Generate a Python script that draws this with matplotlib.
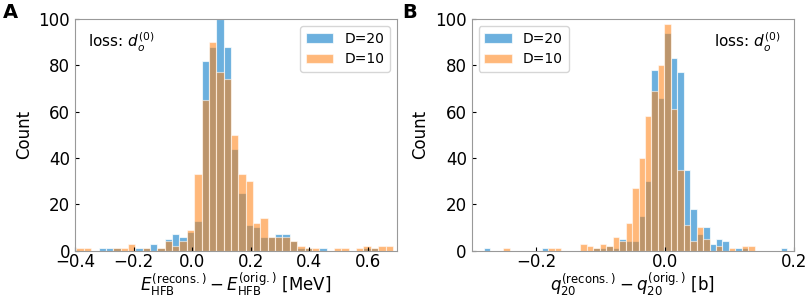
import numpy as np
import matplotlib.pyplot as plt

# bin edges shared by both series of a panel
edges_a = np.linspace(-0.395, 0.686, 44)
edges_b = np.linspace(-0.2813, 0.1897, 48)

# panel A: E_HFB difference, counts per bin
cnt_a_d20 = [0, 0, 0, 1, 1, 1, 0, 0, 1, 1,
             3, 1, 5, 7, 6, 8, 13, 82, 88, 100,
             88, 44, 25, 11, 10, 6, 6, 7, 7, 4,
             1, 1, 0, 1, 0, 0, 0, 0, 0, 1,
             1, 0, 0]
cnt_a_d10 = [1, 1, 0, 0, 0, 1, 1, 3, 0, 1,
             0, 1, 4, 2, 4, 9, 33, 65, 90, 77,
             74, 50, 33, 30, 12, 14, 6, 6, 6, 4,
             2, 1, 1, 0, 0, 1, 1, 0, 1, 2,
             1, 2, 2]

# panel B: q20 difference, counts per bin
cnt_b_d20 = [1, 0, 0, 0, 0, 0, 0, 0, 0, 1,
             0, 0, 0, 0, 0, 0, 0, 1, 1, 2,
             1, 5, 4, 4, 15, 30, 78, 66, 94, 83,
             77, 35, 18, 7, 10, 3, 5, 4, 0, 1,
             1, 0, 0, 0, 0, 0, 1]
cnt_b_d10 = [0, 0, 0, 1, 0, 0, 0, 0, 0, 0,
             1, 1, 0, 0, 0, 3, 2, 1, 3, 2,
             6, 4, 12, 27, 40, 58, 69, 80, 98, 61,
             35, 11, 4, 10, 5, 0, 2, 0, 1, 0,
             2, 2, 0, 0, 0, 0, 0]

xticks_a = [-0.4, -0.2, 0.0, 0.2, 0.4, 0.6]
xticks_b = [-0.2, 0.0, 0.2]
yticks = [0, 20, 40, 60, 80, 100]

blue = '#2e8fd0'
orange = '#ff7f0e'

fig = plt.figure(figsize=(8.09, 3.02), dpi=100)
axA = fig.add_axes([0.0927, 0.170, 0.398, 0.767])
axB = fig.add_axes([0.583, 0.170, 0.398, 0.767])


def draw(ax, edges, c20, c10, xticks, xlim):
    left = edges[:-1]
    ax.hist(left, bins=edges, weights=c20, color=blue, alpha=0.7,
            edgecolor='white', linewidth=0.8, label='D=20')
    ax.hist(left, bins=edges, weights=c10, color=orange, alpha=0.55,
            edgecolor='white', linewidth=0.8, label='D=10')
    ax.set_xlim(*xlim)
    ax.set_ylim(0, 100)
    ax.set_xticks(xticks)
    ax.set_yticks(yticks)
    ax.tick_params(direction='in', labelsize=12, length=3)
    ax.tick_params(axis='x', pad=1.5)
    for s in ax.spines.values():
        s.set_color('#999999')
    ax.set_ylabel('Count', fontsize=12)


draw(axA, edges_a, cnt_a_d20, cnt_a_d10, xticks_a, (-0.4, 0.7))
draw(axB, edges_b, cnt_b_d20, cnt_b_d10, xticks_b, (-0.3, 0.2))

axA.set_xlabel(r'$E_{\rm HFB}^{\rm (recons.)}-E_{\rm HFB}^{\rm (orig.)}$ [MeV]',
               fontsize=12, labelpad=0)
axB.set_xlabel(r'$q_{20}^{\rm (recons.)}-q_{20}^{\rm (orig.)}$ [b]',
               fontsize=12, labelpad=0)

axA.legend(loc='upper right', fontsize=10)
axB.legend(loc='upper left', fontsize=10)

axA.text(0.04, 0.90, r'loss: $d_o^{(0)}$', transform=axA.transAxes,
         fontsize=11, va='center', ha='left')
axB.text(0.96, 0.90, r'loss: $d_o^{(0)}$', transform=axB.transAxes,
         fontsize=11, va='center', ha='right')

fig.text(0.004, 0.99, 'A', fontsize=14, fontweight='bold', va='top')
fig.text(0.497, 0.99, 'B', fontsize=14, fontweight='bold', va='top')

fig.savefig('out.png', dpi=100)
